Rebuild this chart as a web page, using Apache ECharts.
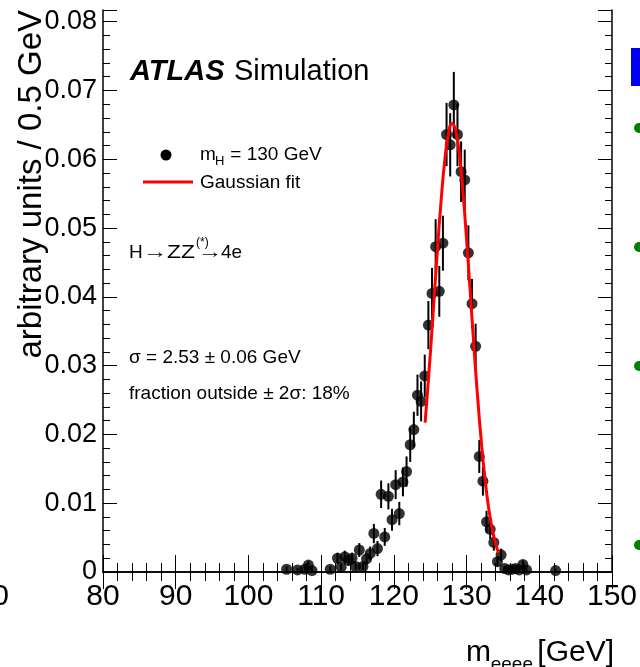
<!DOCTYPE html>
<html>
<head>
<meta charset="utf-8">
<script src="https://cdn.jsdelivr.net/npm/echarts@6/dist/echarts.min.js"></script>
<style>
  html, body { margin: 0; padding: 0; background: #fff; }
  #chart { width: 640px; height: 667px; }
</style>
</head>
<body>
<div id="chart"></div>
<script>
// m_eeee bin centres (0.5 GeV bins)
var massBins = [105.25, 106.75, 107.75, 108.25, 108.75, 111.25, 112.25, 112.75, 113.25, 113.75,
  114.25, 114.75, 115.25, 115.75, 116.25, 116.75, 117.25, 117.75, 118.25, 118.75,
  119.25, 119.75, 120.25, 120.75, 121.25, 121.75, 122.25, 122.75, 123.25, 123.75,
  124.25, 124.75, 125.25, 125.75, 126.25, 126.75, 127.25, 127.75, 128.25, 128.75,
  129.25, 129.75, 130.25, 130.75, 131.25, 131.75, 132.25, 132.75, 133.25, 133.75,
  134.25, 134.75, 135.25, 135.75, 136.25, 136.75, 137.25, 137.75, 138.25, 142.25];

var values = [0.0004, 0.0003, 0.0004, 0.0010, 0.0002, 0.0004, 0.0020, 0.0007, 0.0022, 0.0017,
  0.0020, 0.0008, 0.0032, 0.0008, 0.0019, 0.0027, 0.0056, 0.0034, 0.0113, 0.0051,
  0.0110, 0.0076, 0.0127, 0.0085, 0.0131, 0.0146, 0.0185, 0.0207, 0.0257, 0.0248,
  0.0285, 0.0359, 0.0405, 0.0473, 0.0408, 0.0478, 0.0636, 0.0621, 0.0679, 0.0636,
  0.0582, 0.0570, 0.0464, 0.0390, 0.0328, 0.0168, 0.0132, 0.0073, 0.0062, 0.0043,
  0.0015, 0.0025, 0.0005, 0.0003, 0.0004, 0.0005, 0.0003, 0.0011, 0.0003, 0.0002];

var errors = [0.0004, 0.0003, 0.0004, 0.0006, 0.0003, 0.0004, 0.0008, 0.0005, 0.0009, 0.0008,
  0.0008, 0.0005, 0.0010, 0.0005, 0.0008, 0.0010, 0.0014, 0.0011, 0.0020, 0.0013,
  0.0019, 0.0016, 0.0021, 0.0017, 0.0021, 0.0022, 0.0025, 0.0026, 0.0030, 0.0029,
  0.0031, 0.0035, 0.0037, 0.0040, 0.0037, 0.0040, 0.0046, 0.0046, 0.0048, 0.0046,
  0.0044, 0.0044, 0.0040, 0.0036, 0.0033, 0.0024, 0.0021, 0.0016, 0.0014, 0.0012,
  0.0007, 0.0009, 0.0004, 0.0003, 0.0004, 0.0004, 0.0003, 0.0006, 0.0003, 0.0003];

// red Gaussian fit curve
var fitMass = [124.3, 124.5, 125.0, 125.5, 126.0, 126.5, 127.0, 127.5, 128.0, 128.5,
  129.0, 129.5, 130.0, 130.5, 131.0, 131.5, 132.0, 132.5, 133.0, 133.5, 134.0, 134.4];
var fitValues = [0.0217, 0.0244, 0.0315, 0.0392, 0.0469, 0.0540, 0.0598, 0.0637, 0.0652, 0.0642,
  0.0608, 0.0553, 0.0484, 0.0408, 0.0330, 0.0257, 0.0193, 0.0139, 0.0096, 0.0064, 0.0041, 0.0028];

var yTickLabels = ['0', '0.01', '0.02', '0.03', '0.04', '0.05', '0.06', '0.07', '0.08'];

var FONT = '"Liberation Sans", Arial, Helvetica, sans-serif';

var chart = echarts.init(document.getElementById('chart'));

var points = massBins.map(function (m, i) { return [m, values[i]]; });
var bars = massBins.map(function (m, i) {
  return [m, Math.max(0, values[i] - errors[i]), values[i] + errors[i]];
});
var fit = fitMass.map(function (m, i) { return [m, fitValues[i]]; });

function renderErrorBar(params, api) {
  var lo = api.coord([api.value(0), api.value(1)]);
  var hi = api.coord([api.value(0), api.value(2)]);
  return {
    type: 'line',
    shape: { x1: lo[0], y1: lo[1], x2: hi[0], y2: hi[1] },
    style: { stroke: '#000', lineWidth: 2 }
  };
}

function txt(x, y, s, size, extra) {
  var el = {
    type: 'text', x: x, y: y,
    style: { text: s, fontSize: size, fontFamily: FONT, fill: '#000', verticalAlign: 'middle' }
  };
  if (extra) {
    for (var k in extra) {
      if (k === 'style') {
        for (var j in extra.style) el.style[j] = extra.style[j];
      } else {
        el[k] = extra[k];
      }
    }
  }
  return el;
}

var axisLine = { show: true, lineStyle: { color: '#000', width: 1.5 } };

var option = {
  animation: false,
  grid: { left: 103, right: 28, top: 10, bottom: 95 },
  xAxis: [
    {
      type: 'value', min: 80, max: 150, interval: 10,
      axisLine: axisLine,
      axisTick: { inside: true, length: 17, lineStyle: { color: '#000', width: 1 } },
      minorTick: { show: true, splitNumber: 5, length: 9, lineStyle: { color: '#000', width: 1 } },
      splitLine: { show: false },
      axisLabel: { color: '#000', fontSize: 30, fontFamily: FONT, margin: 10 }
    },
    {
      type: 'value', position: 'top', min: 80, max: 150, interval: 10,
      axisLine: axisLine,
      axisTick: { inside: true, length: 17, lineStyle: { color: '#000', width: 1 } },
      minorTick: { show: true, splitNumber: 5, length: 9, lineStyle: { color: '#000', width: 1 } },
      splitLine: { show: false },
      axisLabel: { show: false }
    }
  ],
  yAxis: [
    {
      type: 'value', min: 0, max: 0.0817, interval: 0.01,
      axisLine: axisLine,
      axisTick: { inside: true, length: 14, lineStyle: { color: '#000', width: 1 } },
      minorTick: { show: true, splitNumber: 5, length: 7, lineStyle: { color: '#000', width: 1 } },
      splitLine: { show: false },
      axisLabel: {
        color: '#000', fontSize: 27, fontFamily: FONT, margin: 6,
        formatter: function (v) {
          var i = Math.round(v / 0.01);
          return Math.abs(v - i * 0.01) < 1e-9 ? yTickLabels[i] : '';
        }
      }
    },
    {
      type: 'value', position: 'right', min: 0, max: 0.0817, interval: 0.01,
      axisLine: axisLine,
      axisTick: { inside: true, length: 14, lineStyle: { color: '#000', width: 1 } },
      minorTick: { show: true, splitNumber: 5, length: 7, lineStyle: { color: '#000', width: 1 } },
      splitLine: { show: false },
      axisLabel: { show: false }
    }
  ],
  series: [
    {
      type: 'custom',
      renderItem: renderErrorBar,
      encode: { x: 0, y: [1, 2] },
      data: bars,
      z: 2
    },
    {
      type: 'scatter',
      data: points,
      symbol: 'circle',
      symbolSize: 11,
      itemStyle: { color: '#000' },
      z: 3
    },
    {
      type: 'line',
      data: fit,
      smooth: true,
      showSymbol: false,
      lineStyle: { color: '#ff0000', width: 3 },
      z: 4
    }
  ],
  graphic: [
    // y axis title
    txt(32, 10, 'arbitrary units / 0.5 GeV', 33, { rotation: Math.PI / 2, style: { align: 'right' } }),
    // x axis title
    txt(614, 653, '[GeV]', 30, { style: { align: 'right' } }),
    txt(533, 665, 'eeee', 19, { style: { align: 'right' } }),
    txt(491, 653, 'm', 30, { style: { align: 'right' } }),
    // ATLAS label
    txt(130, 72, 'ATLAS', 29, { style: { fontStyle: 'italic', fontWeight: 'bold' } }),
    txt(234, 72, 'Simulation', 29),
    // legend
    { type: 'circle', shape: { cx: 166, cy: 155, r: 5.5 }, style: { fill: '#000' } },
    txt(200, 155, 'm', 19),
    txt(215, 161, 'H', 13),
    txt(225, 155, ' = 130 GeV', 19),
    { type: 'line', shape: { x1: 143, y1: 182, x2: 193, y2: 182 }, style: { stroke: '#ff0000', lineWidth: 3 } },
    txt(200, 183, 'Gaussian fit', 19),
    // channel
    txt(129, 253, 'H', 19),
    txt(155, 253, '\u2192', 19, { scaleX: 1.3, style: { align: 'center' } }),
    txt(167, 253, 'ZZ', 19, { scaleX: 1.2 }),
    txt(196, 243, '(*)', 12),
    txt(210, 253, '\u2192', 19, { scaleX: 1.3, style: { align: 'center' } }),
    txt(221, 253, '4e', 19),
    // fit results
    txt(129, 358, '\u03c3 = 2.53 \u00b1 0.06 GeV', 19),
    txt(129, 394, 'fraction outside \u00b1 2\u03c3: 18%', 19),
    // bits of the slide around the plot
    txt(9, 597, '0', 30, { style: { align: 'right' } }),
    { type: 'rect', shape: { x: 631, y: 48, width: 12, height: 38 }, style: { fill: '#0000ee' } },
    { type: 'circle', shape: { cx: 639, cy: 128, r: 5 }, style: { fill: '#008000' } },
    { type: 'circle', shape: { cx: 639, cy: 247, r: 5 }, style: { fill: '#008000' } },
    { type: 'circle', shape: { cx: 639, cy: 366, r: 5 }, style: { fill: '#008000' } },
    { type: 'circle', shape: { cx: 639, cy: 545, r: 5 }, style: { fill: '#008000' } }
  ]
};

chart.setOption(option);
</script>
</body>
</html>
